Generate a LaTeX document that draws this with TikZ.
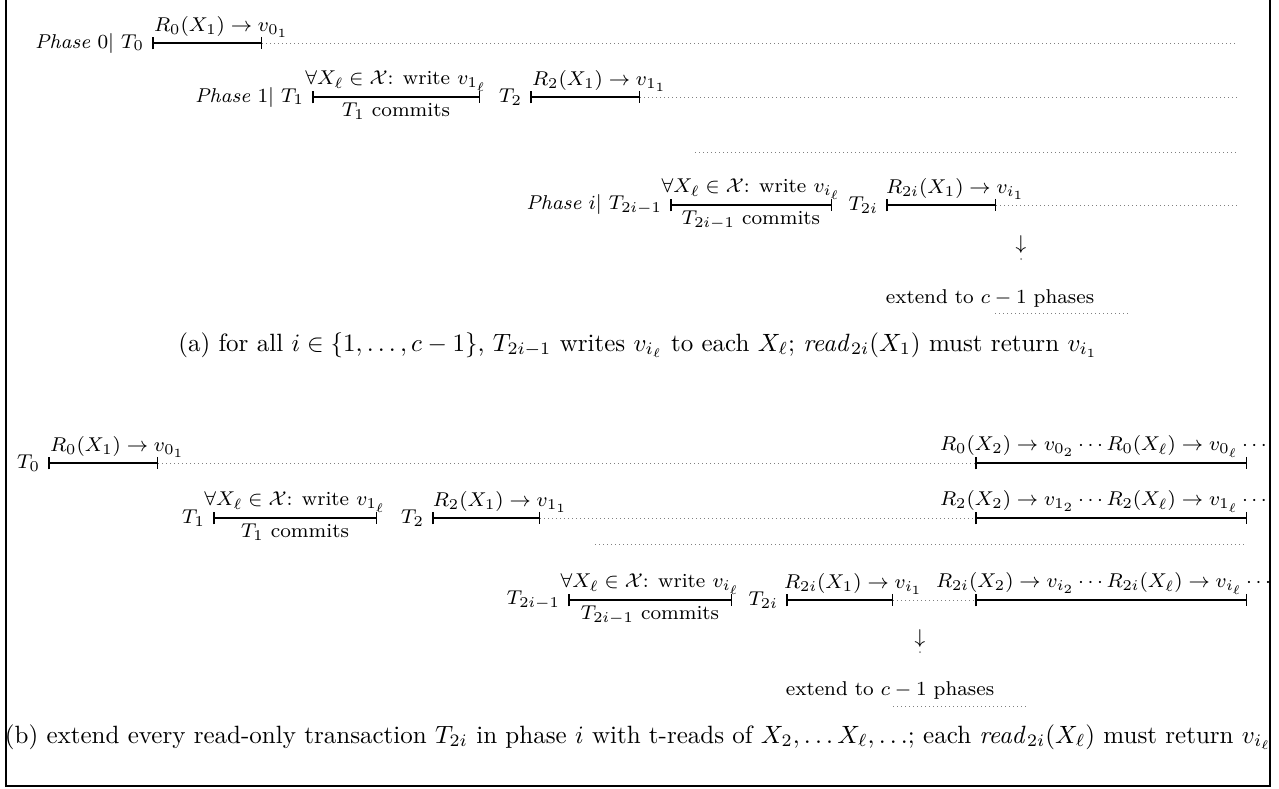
\documentclass[tikz,border=0pt]{standalone}
\usepackage{amssymb}
\usetikzlibrary{arrows.meta,positioning}
\tikzset{
  txbar/.style={arrows={Bar[width=5pt]-Bar[width=5pt]},semithick},
  idle/.style={gray,dash pattern=on .4pt off 1.2pt},
  lbl/.style={inner sep=2pt,font=\footnotesize},
}
\newcommand{\txn}[4]{\coordinate (#1s) at (#2,#4);\coordinate (#1e) at (#3,#4);}

\begin{document}
\begin{tikzpicture}[x=.4pt,y=-.4pt]
\useasboundingbox (0,0) rectangle (1279,788);
\draw[thick] (6,0) -- (6,786) -- (1270,786) -- (1270,0);
% (a) one read-only and one updating transaction per phase
\txn{a0}{152}{262}{43}\coordinate (a0d) at (1237,43);
\node[lbl,left=1pt of a0s] (a0t) {\textit{Phase} $0|$ $T_0$};
\draw[txbar] (a0s) -- node[lbl,above,pos=.63] (a0r) {$R_0(X_1)\rightarrow v_{0_1}$} (a0e);\draw[idle] (a0e) -- (a0d);
\txn{a1}{312}{480}{97}\txn{a2}{530}{640}{97}\coordinate (a2d) at (1237,97);
\node[lbl,left=1pt of a1s] (a1t) {\textit{Phase} $1|$ $T_1$};
\draw[txbar] (a1s) -- node[lbl,above] (a1w) {$\forall X_\ell\in\mathcal{X}$: write $v_{1_\ell}$} node[lbl,below] (a1c) {$T_1$ commits} (a1e);
\node[lbl,left=1pt of a2s] (a2t) {$T_2$};
\draw[txbar] (a2s) -- node[lbl,above,pos=.63] (a2r) {$R_2(X_1)\rightarrow v_{1_1}$} (a2e);\draw[idle] (a2e) -- (a2d);
\coordinate (agl) at (695,152);\coordinate (agr) at (1237,152);\draw[idle] (agl) -- (agr);
\txn{ai}{670}{832}{205}\txn{aj}{886}{996}{205}\coordinate (ajd) at (1237,205);
\node[lbl,left=1pt of ais] (ait) {\textit{Phase} $i|$ $T_{2i-1}$};
\draw[txbar] (ais) -- node[lbl,above] (aiw) {$\forall X_\ell\in\mathcal{X}$: write $v_{i_\ell}$} node[lbl,below] (aic) {$T_{2i-1}$ commits} (aie);
\node[lbl,left=1pt of ajs] (ajt) {$T_{2i}$};
\draw[txbar] (ajs) -- node[lbl,above,pos=.63] (ajr) {$R_{2i}(X_1)\rightarrow v_{i_1}$} (aje);\draw[idle] (aje) -- (ajd);
\node[lbl] (adn) at (1021,244) {$\downarrow$};\fill[gray] (1021,259) circle (.4pt);
\node[lbl] (aext) at (990,298) {extend to $c-1$ phases};
\coordinate (aml) at (995,313);\coordinate (amr) at (1130,313);\draw[idle] (aml) -- (amr);
\node (acap) at (638,345) {(a) for all $i\in\{1,\ldots,c-1\}$, $T_{2i-1}$ writes $v_{i_\ell}$ to each $X_\ell$; $\mathit{read}_{2i}(X_1)$ must return $v_{i_1}$};
% (b) read-only transactions extended to every t-object
\txn{b0}{48}{158}{463}\txn{b0x}{975}{1247}{463}
\node[lbl,left=1pt of b0s] (b0t) {$T_0$};
\draw[txbar] (b0s) -- node[lbl,above,pos=.63] (b0r) {$R_0(X_1)\rightarrow v_{0_1}$} (b0e);\draw[idle] (b0e) -- (b0xs);
\draw[txbar] (b0xs) -- node[lbl,above,xshift=-3pt] (b0xr) {$R_0(X_2)\rightarrow v_{0_2}\cdots R_0(X_\ell)\rightarrow v_{0_\ell}\cdots$} (b0xe);
\txn{b1}{213}{377}{518}\txn{b2}{432}{540}{518}\txn{b2x}{975}{1247}{518}
\node[lbl,left=1pt of b1s] (b1t) {$T_1$};
\draw[txbar] (b1s) -- node[lbl,above] (b1w) {$\forall X_\ell\in\mathcal{X}$: write $v_{1_\ell}$} node[lbl,below] (b1c) {$T_1$ commits} (b1e);
\node[lbl,left=1pt of b2s] (b2t) {$T_2$};
\draw[txbar] (b2s) -- node[lbl,above,pos=.63] (b2r) {$R_2(X_1)\rightarrow v_{1_1}$} (b2e);\draw[idle] (b2e) -- (b2xs);
\draw[txbar] (b2xs) -- node[lbl,above,xshift=-3pt] (b2xr) {$R_2(X_2)\rightarrow v_{1_2}\cdots R_2(X_\ell)\rightarrow v_{1_\ell}\cdots$} (b2xe);
\coordinate (bgl) at (595,544);\coordinate (bgr) at (1247,544);\draw[idle] (bgl) -- (bgr);
\txn{bi}{568}{732}{600}\txn{bj}{786}{893}{600}\txn{bjx}{975}{1247}{600}
\node[lbl,left=1pt of bis] (bit) {$T_{2i-1}$};
\draw[txbar] (bis) -- node[lbl,above] (biw) {$\forall X_\ell\in\mathcal{X}$: write $v_{i_\ell}$} node[lbl,below] (bic) {$T_{2i-1}$ commits} (bie);
\node[lbl,left=1pt of bjs] (bjt) {$T_{2i}$};
\draw[txbar] (bjs) -- node[lbl,above,pos=.63] (bjr) {$R_{2i}(X_1)\rightarrow v_{i_1}$} (bje);\draw[idle] (bje) -- (bjxs);
\draw[txbar] (bjxs) -- node[lbl,above,xshift=-3pt] (bjxr) {$R_{2i}(X_2)\rightarrow v_{i_2}\cdots R_{2i}(X_\ell)\rightarrow v_{i_\ell}\cdots$} (bjxe);
\node[lbl] (bdn) at (920,638) {$\downarrow$};\fill[gray] (920,652) circle (.4pt);
\node[lbl] (bext) at (890,690) {extend to $c-1$ phases};
\coordinate (bml) at (893,706);\coordinate (bmr) at (1028,706);\draw[idle] (bml) -- (bmr);
\node (bcap) at (638,737) {(b) extend every read-only transaction $T_{2i}$ in phase $i$ with t-reads of $X_2,\ldots X_\ell,\ldots$; each $\mathit{read}_{2i}(X_\ell)$ must return $v_{i_\ell}$};
\end{tikzpicture}
\end{document}
